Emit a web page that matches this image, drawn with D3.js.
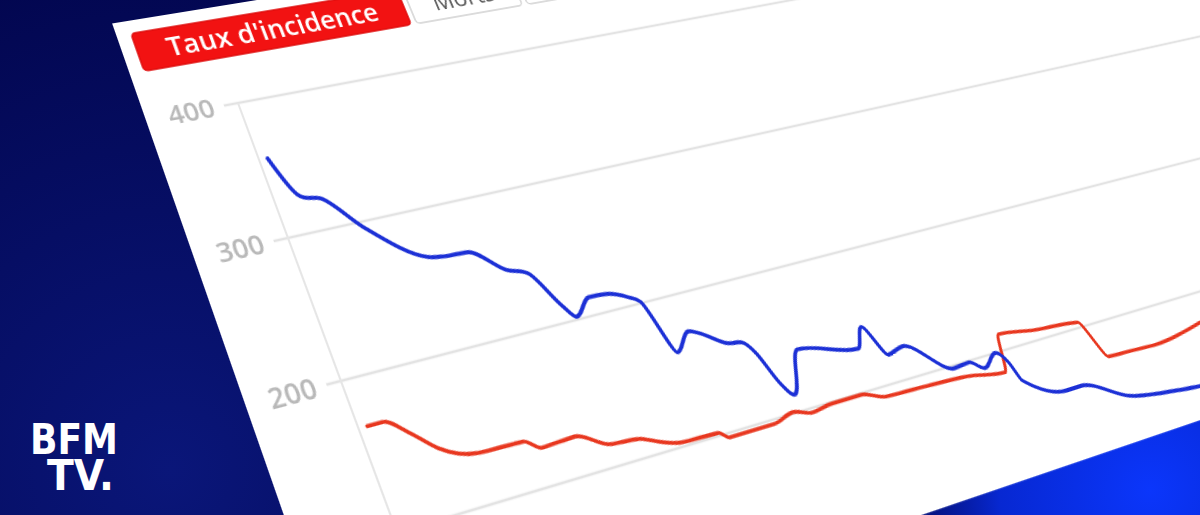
<!DOCTYPE html>
<html><head><meta charset="utf-8">
<script src="https://cdn.jsdelivr.net/npm/d3@7"></script>
<style>
html,body{margin:0;padding:0;width:1200px;height:515px;overflow:hidden;background:#03085a;}
#bg{position:absolute;left:0;top:0;}
#chart{position:absolute;left:0;top:0;transform-origin:0 0;}
</style></head><body>
<svg id="bg" width="1200" height="515"></svg>
<svg id="chart"></svg>
<script>
// ---------------- data ----------------
const blueDays   = [0,3,4,7,13,23,26,31,37,41,45,47,51,55,59,61,64,68,70,75,78,80,82,84,89,102,105,108,112,121,125,128,132,134,135,144,148,158,168,176,186];
const blueValues = [357,328,325,322,296,266,264,263,245,239,212,202,213,212,206,201,161,173,170,158,156,146,123,112,141,130,144,120,123,98,99,92,100,91,76,60,60,43,37,34,32];
const redDays    = [0,3,7,11,18,27,30,37,43,49,53,57,65,67,77,82,86,91,98,103,111,123,132,135,143,155,158,165,171,185];
const redValues  = [168,168,157,143,133,132,125,126,115,113,107,103,102,97,97,101,97,99,99,93,92,90,85,112,108,104,74,73,72,78];
const yTicks     = [0,100,200,300,400];
const yLabels    = ["0","100","200","300","400"];
const tabLabels  = ["Taux d'incidence","Morts",""];
const logoLines  = ["BFM","TV."];

// ---------------- layout (flat chart, then perspective) ----------------
const FW = 1400, FH = 700, OX = 120, OY = 130, K = 1.35;
const xScale = d3.scaleLinear().domain([0,186]).range([OX+8.4, OX+938.4]);
const yScale = d3.scaleLinear().domain([0,400]).range([OY+K*400, OY]);

// perspective: axis origin, horizontal vanishing point, vertical step, vertical foreshortening
const T = [238,103], HVP = [4410,-673], BV = [0.419,1.283], HV = -0.00028, G = 0.00024;
const H11 = HVP[0]*G, H12 = BV[0]/K, H13 = T[0] - H11*OX - H12*OY;
const H21 = HVP[1]*G, H22 = BV[1]/K, H23 = T[1] - H21*OX - H22*OY;
const H31 = G,        H32 = HV/K,    H33 = 1 - H31*OX - H32*OY;

// ---------------- background ----------------
const bg = d3.select("#bg");
const defs = bg.append("defs");
const lg = defs.append("radialGradient").attr("id","navy").attr("gradientUnits","userSpaceOnUse")
  .attr("cx",170).attr("cy",470).attr("r",520);
lg.append("stop").attr("offset","0").attr("stop-color","#0a1679");
lg.append("stop").attr("offset","1").attr("stop-color","#02064f");
const rg = defs.append("radialGradient").attr("id","glow").attr("gradientUnits","userSpaceOnUse")
  .attr("cx",1150).attr("cy",490).attr("r",300);
rg.append("stop").attr("offset","0").attr("stop-color","#0b36fb").attr("stop-opacity",1);
rg.append("stop").attr("offset","0.5").attr("stop-color","#0728d2").attr("stop-opacity",1);
rg.append("stop").attr("offset","1").attr("stop-color","#06168e").attr("stop-opacity",0);
bg.append("rect").attr("width",1200).attr("height",515).attr("fill","url(#navy)");
bg.append("rect").attr("width",1200).attr("height",515).attr("fill","url(#glow)");

const logo = bg.append("g").attr("fill","#ffffff")
  .style("font-family","'DejaVu Sans'").style("font-weight","bold");
logo.append("text").attr("x",30).attr("y",454).attr("font-size",42)
  .attr("textLength",88).attr("lengthAdjust","spacingAndGlyphs").text(logoLines[0]);
logo.append("text").attr("x",47).attr("y",490).attr("font-size",42)
  .attr("textLength",67).attr("lengthAdjust","spacingAndGlyphs").text(logoLines[1]);

// ---------------- flat chart ----------------
const svg = d3.select("#chart").attr("width",FW).attr("height",FH)
  .style("transform",`matrix3d(${H11},${H21},0,${H31},${H12},${H22},0,${H32},0,0,1,0,${H13},${H23},0,${H33})`);

const cardLeft = OX-90, cardTop = OY-99, cardRight = OX+1260, cardBottom = yScale(11);
svg.append("rect").attr("x",cardLeft).attr("y",cardTop)
  .attr("width",cardRight-cardLeft).attr("height",cardBottom-cardTop).attr("fill","#ffffff");

// tabs
const tabX = [OX-76, OX+206, OX+332], tabW = [276,120,150];
const tabTop = OY-86, tabH = 39;
const tabs = svg.append("g").selectAll("g").data(tabLabels).join("g");
tabs.append("rect")
  .attr("x",(d,i)=>tabX[i]).attr("y",tabTop).attr("width",(d,i)=>tabW[i]).attr("height",tabH)
  .attr("rx",4).attr("fill",(d,i)=>i===0?"#f21212":"#ffffff")
  .attr("stroke",(d,i)=>i===0?"#e00c0c":"#d0d0d0").attr("stroke-width",1.5);
tabs.append("text")
  .attr("x",(d,i)=>tabX[i]+tabW[i]/2).attr("y",tabTop+tabH/2+9.5)
  .attr("text-anchor","middle").style("font-family","'Open Sans'")
  .style("font-size",(d,i)=>i===0?"27px":"25px").style("font-weight",(d,i)=>i===0?"600":"400")
  .attr("fill",(d,i)=>i===0?"#ffffff":"#5a5a5a").text(d=>d);

// clip to card
const cdefs = svg.append("defs");
cdefs.append("clipPath").attr("id","cardclip").append("rect")
  .attr("x",cardLeft).attr("y",cardTop).attr("width",cardRight-cardLeft).attr("height",cardBottom-cardTop);
const plot = svg.append("g").attr("clip-path","url(#cardclip)");

// gridlines
plot.append("g").selectAll("line").data(yTicks).join("line")
  .attr("x1",OX-14).attr("x2",cardRight).attr("y1",d=>yScale(d)).attr("y2",d=>yScale(d))
  .attr("stroke","#e3e3e3").attr("stroke-width",2.4);
// y axis line
plot.append("line").attr("x1",OX).attr("x2",OX).attr("y1",yScale(400)).attr("y2",cardBottom)
  .attr("stroke","#e6e6e6").attr("stroke-width",2);
// y labels
const yAxis = d3.axisLeft(yScale).tickValues(yTicks).tickFormat((d,i)=>yLabels[i]).tickSize(0).tickPadding(24);
const ax = plot.append("g").attr("transform",`translate(${OX},0)`).call(yAxis);
ax.select(".domain").remove();
ax.selectAll("text").attr("fill","#b8b8b8").style("font-family","'Open Sans'")
  .style("font-size","26px").style("font-weight","600");

// series
const line = d3.line().x(d=>xScale(d[0])).y(d=>yScale(d[1])).curve(d3.curveMonotoneX);
const blue = blueDays.map((d,i)=>[d,blueValues[i]]);
const red = redDays.map((d,i)=>[d,redValues[i]]);
plot.append("path").datum(red).attr("d",line).attr("fill","none")
  .attr("stroke","#e8371f").attr("stroke-width",3.6).attr("stroke-linejoin","round").attr("stroke-linecap","round");
plot.append("path").datum(blue).attr("d",line).attr("fill","none")
  .attr("stroke","#1c30d6").attr("stroke-width",3.9).attr("stroke-linejoin","round").attr("stroke-linecap","round");
</script>
</body></html>
